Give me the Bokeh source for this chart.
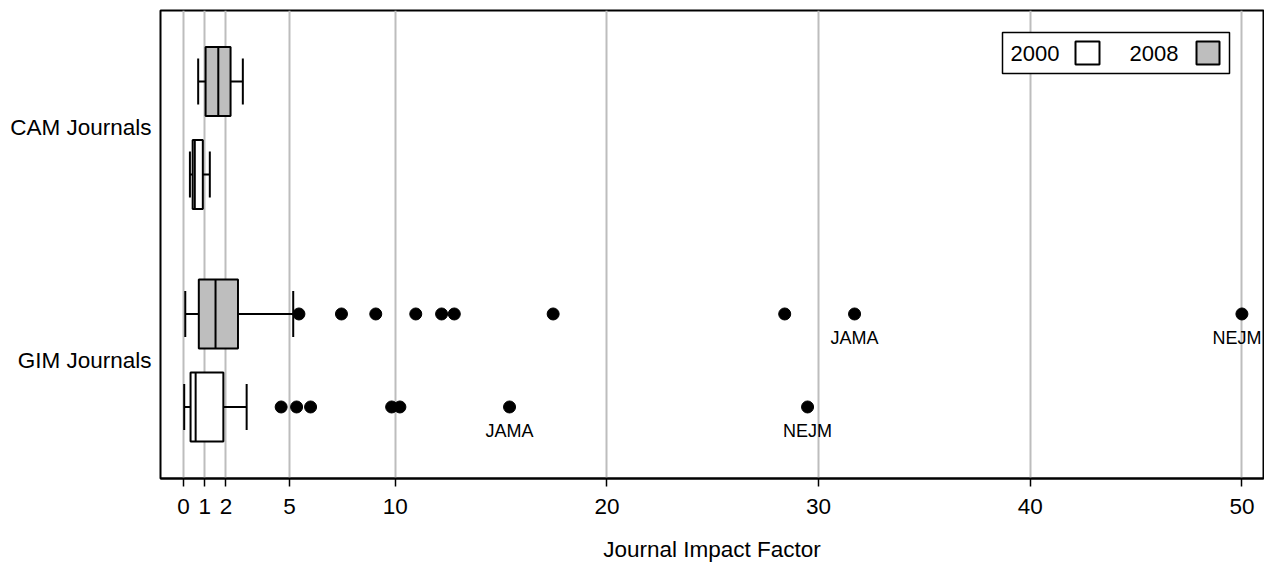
from bokeh.plotting import figure
from bokeh.models import Range1d, FixedTicker, ColumnDataSource
from bokeh.embed import file_html
from bokeh.resources import INLINE
from bokeh.core.properties import value

# ---------------- data ----------------
groups = ["CAM Journals", "CAM Journals", "GIM Journals", "GIM Journals"]
years = ["2008", "2000", "2008", "2000"]
ypos = [5.0, 4.0, 2.5, 1.5]
whisker_lo = [0.69, 0.30, 0.08, 0.03]
q1 = [1.04, 0.43, 0.72, 0.33]
median = [1.64, 0.53, 1.51, 0.57]
q3 = [2.22, 0.91, 2.57, 1.88]
whisker_hi = [2.80, 1.24, 5.18, 2.98]
fills = ["#bebebe", "white", "#bebebe", "white"]

gim_2008_outliers = [5.45, 7.46, 9.08, 10.97, 12.19, 12.79, 17.46, 28.4, 31.7, 50.0]
gim_2000_outliers = [4.61, 5.34, 6.0, 9.83, 10.22, 15.4, 29.48]
label_names = ["JAMA", "NEJM", "JAMA", "NEJM"]
label_x = [31.7, 50.0, 15.4, 29.48]
label_y = [2.5, 2.5, 1.5, 1.5]

x_ticks = [0, 1, 2, 5, 10, 20, 30, 40, 50]
y_tick_pos = [4.5, 2.0]
y_tick_labels = ["CAM Journals", "GIM Journals"]
legend_years = ["2000", "2008"]
legend_fills = ["white", "#bebebe"]

FONT = "Liberation Sans"

# ---------------- figure ----------------
X0, X1 = -1.09, 51.02
Y0, Y1 = 0.731, 5.763
FL, FT, FW, FH = 160, 10, 1103, 468

p = figure(width=1264, height=565, x_range=Range1d(X0, X1), y_range=Range1d(Y0, Y1),
           output_backend="svg", toolbar_location=None,
           min_border_left=FL, min_border_right=1264 - FL - FW,
           min_border_top=FT, min_border_bottom=565 - FT - FH)
p.background_fill_color = "white"
p.border_fill_color = "white"
p.outline_line_color = "black"
p.outline_line_width = 2

p.ygrid.visible = False
p.xgrid.ticker = FixedTicker(ticks=x_ticks)
p.xgrid.grid_line_color = "#bdbdbd"
p.xgrid.grid_line_width = 2

xa = p.xaxis[0]
xa.ticker = FixedTicker(ticks=x_ticks)
xa.axis_line_color = "black"
xa.axis_line_width = 2
xa.major_tick_line_color = "black"
xa.major_tick_line_width = 1.5
xa.major_tick_out = 8
xa.major_tick_in = 0
xa.minor_tick_line_color = None
xa.major_label_text_font = FONT
xa.major_label_text_font_size = "22.5px"
xa.major_label_text_color = "black"
xa.major_label_standoff = 12
xa.axis_label = "Journal Impact Factor"
xa.axis_label_text_font = FONT
xa.axis_label_text_font_size = "22.5px"
xa.axis_label_text_font_style = "normal"
xa.axis_label_text_color = "black"
xa.axis_label_standoff = 20

ya = p.yaxis[0]
ya.ticker = FixedTicker(ticks=y_tick_pos)
ya.major_label_overrides = {t: l for t, l in zip(y_tick_pos, y_tick_labels)}
ya.axis_line_color = None
ya.major_tick_out = 0
ya.major_tick_in = 0
ya.major_tick_line_color = None
ya.minor_tick_line_color = None
ya.major_label_text_font = FONT
ya.major_label_text_font_size = "22.5px"
ya.major_label_text_color = "black"
ya.major_label_standoff = 9

# ---------------- boxes ----------------
BOX_H = 0.742
CAP_H = 0.495
src = ColumnDataSource(dict(
    y=ypos, lo=whisker_lo, q1=q1, med=median, q3=q3, hi=whisker_hi, fill=fills,
    ytop=[v + BOX_H / 2 for v in ypos], ybot=[v - BOX_H / 2 for v in ypos],
    ctop=[v + CAP_H / 2 for v in ypos], cbot=[v - CAP_H / 2 for v in ypos],
))
# whiskers
p.segment(x0="lo", y0="y", x1="q1", y1="y", source=src, line_color="black", line_width=2)
p.segment(x0="q3", y0="y", x1="hi", y1="y", source=src, line_color="black", line_width=2)
p.segment(x0="lo", y0="cbot", x1="lo", y1="ctop", source=src, line_color="black", line_width=2)
p.segment(x0="hi", y0="cbot", x1="hi", y1="ctop", source=src, line_color="black", line_width=2)
# boxes
p.quad(left="q1", right="q3", bottom="ybot", top="ytop", source=src,
       fill_color="fill", line_color="black", line_width=2)
p.segment(x0="med", y0="ybot", x1="med", y1="ytop", source=src, line_color="black", line_width=2)

# outliers
p.scatter(x=gim_2008_outliers, y=[2.5] * len(gim_2008_outliers), size=12,
          fill_color="black", line_color="black")
p.scatter(x=gim_2000_outliers, y=[1.5] * len(gim_2000_outliers), size=12,
          fill_color="black", line_color="black")
lab_src = ColumnDataSource(dict(x=label_x, y=label_y, text=label_names,
                                dx=[0 if x < 45 else -5 for x in label_x]))
p.text(x="x", y="y", text="text", source=lab_src, x_offset="dx",
       text_align="center", text_baseline="top",
       y_offset=14, text_font=value(FONT), text_font_size="18px", text_color="black")

# ---------------- legend (drawn) ----------------
def dx(px):
    return X0 + (px - FL) * (X1 - X0) / FW

def dy(py):
    return Y1 - (py - FT) * (Y1 - Y0) / FH

p.quad(left=[dx(1002)], right=[dx(1229)], top=[dy(32)], bottom=[dy(73)],
       fill_color="white", line_color="black", line_width=1.5)
p.quad(left=[dx(1075), dx(1196)], right=[dx(1099), dx(1219)],
       top=[dy(41)] * 2, bottom=[dy(64)] * 2,
       fill_color=legend_fills, line_color="black", line_width=2)
p.text(x=[dx(1010), dx(1129)], y=[dy(53)] * 2, text=legend_years,
       text_align="left", text_baseline="middle",
       text_font=value(FONT), text_font_size="22px", text_color="black")

open("out.html", "w").write(file_html(p, INLINE))
